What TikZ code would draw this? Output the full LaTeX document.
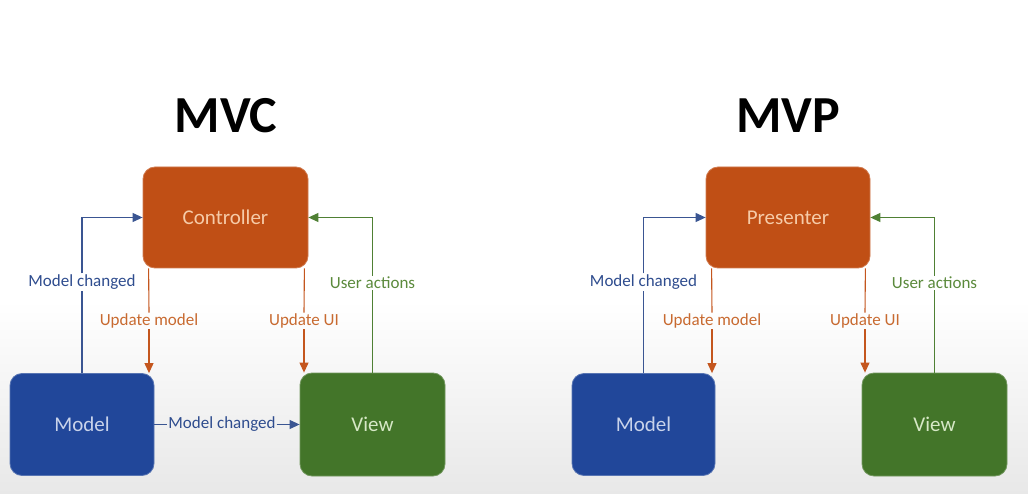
\documentclass[tikz,border=0pt]{standalone}
\usepackage{fontspec}
\setmainfont{Carlito}
\usetikzlibrary{arrows.meta}
\definecolor{corange}{HTML}{C04F15}
\definecolor{cblue}{HTML}{21479A}
\definecolor{cgreen}{HTML}{437529}
\definecolor{otext}{HTML}{F6CBA8}
\definecolor{btext}{HTML}{C9D3EA}
\definecolor{gtext}{HTML}{D6E8C6}
\definecolor{bline}{HTML}{3A5592}
\definecolor{oline}{HTML}{C4561E}
\definecolor{gline}{HTML}{4F8034}
\definecolor{blbl}{HTML}{2E4C8E}
\definecolor{olbl}{HTML}{C86A30}
\definecolor{glbl}{HTML}{5B8A3C}
\tikzset{
  box/.style={rounded corners=12pt, inner sep=0pt, font=\fontsize{21}{24}\selectfont},
  obox/.style={box, fill=corange, draw=corange!75!white, line width=0.8pt, text=otext},
  bbox/.style={box, fill=cblue, draw=cblue!75!white, line width=0.8pt, text=btext},
  gbox/.style={box, fill=cgreen, draw=cgreen!75!white, line width=0.8pt, text=gtext},
  lbl/.style={font=\fontsize{17}{20}\selectfont, inner sep=1pt},
  title/.style={font=\bfseries\fontsize{52}{56}\selectfont, text=black},
  tip/.style={-{Triangle[length=10pt,width=9pt]}},
  bl/.style={draw=bline, line width=1.1pt},
  ol/.style={draw=oline, line width=1.1pt},
  gl/.style={draw=gline, line width=1.1pt}
}
\begin{document}
\begin{tikzpicture}[x=1pt,y=-1pt]
\useasboundingbox (0,0) rectangle (1028,494);
\fill[white] (0,0) rectangle (1028,494);
\shade[top color=white, bottom color=black!9] (0,300) rectangle (1028,494);

% ---------- MVC ----------
\node[title] (t1) at (226,116) {MVC};
\node[obox, minimum width=165pt, minimum height=101pt] (c1) at (225.5,217.5) {Controller};
\node[bbox, minimum width=144pt, minimum height=102pt] (m1) at (82,424.5) {Model};
\node[gbox, minimum width=145pt, minimum height=103pt] (v1) at (372.5,424.5) {View};

\node[lbl, text=blbl] (mc1) at (82,282) {Model changed};
\node[lbl, text=olbl] (um1) at (149,321) {Update model};
\node[lbl, text=olbl] (uu1) at (304,321) {Update UI};
\node[lbl, text=glbl] (ua1) at (372.5,283) {User actions};
\node[lbl, text=blbl] (mb1) at (222,424.5) {Model changed};

\draw[bl] (m1.north) -- (mc1.south);
\draw[bl, tip] (mc1.north) |- (c1.west);
\coordinate (um1a) at ([xshift=6pt]c1.south west);
\draw[ol] (um1a) -- (um1.north);
\draw[ol, tip] (um1.south) -- (um1.south |- m1.north);
\coordinate (uu1a) at ([xshift=-4pt]c1.south east);
\draw[ol] (uu1a) -- (uu1.north);
\draw[ol, tip] (uu1.south) -- (uu1.south |- v1.north);
\draw[gl] (v1.north) -- (ua1.south);
\draw[gl, tip] (ua1.north) |- (c1.east);
\draw[bl] (m1.east) -- (mb1.west);
\draw[bl, tip] (mb1.east) -- (v1.west);

% ---------- MVP ----------
\node[title] (t2) at (788,116) {MVP};
\node[obox, minimum width=164pt, minimum height=101pt] (c2) at (788,217.5) {Presenter};
\node[bbox, minimum width=143pt, minimum height=102pt] (m2) at (643.5,424.5) {Model};
\node[gbox, minimum width=145pt, minimum height=103pt] (v2) at (934.5,424.5) {View};

\node[lbl, text=blbl] (mc2) at (643.5,282) {Model changed};
\node[lbl, text=olbl] (um2) at (712,321) {Update model};
\node[lbl, text=olbl] (uu2) at (865,321) {Update UI};
\node[lbl, text=glbl] (ua2) at (934.5,283) {User actions};

\draw[bl] (m2.north) -- (mc2.south);
\draw[bl, tip] (mc2.north) |- (c2.west);
\coordinate (um2a) at ([xshift=6pt]c2.south west);
\draw[ol] (um2a) -- (um2.north);
\draw[ol, tip] (um2.south) -- (um2.south |- m2.north);
\coordinate (uu2a) at ([xshift=-5pt]c2.south east);
\draw[ol] (uu2a) -- (uu2.north);
\draw[ol, tip] (uu2.south) -- (uu2.south |- v2.north);
\draw[gl] (v2.north) -- (ua2.south);
\draw[gl, tip] (ua2.north) |- (c2.east);
\end{tikzpicture}
\end{document}
